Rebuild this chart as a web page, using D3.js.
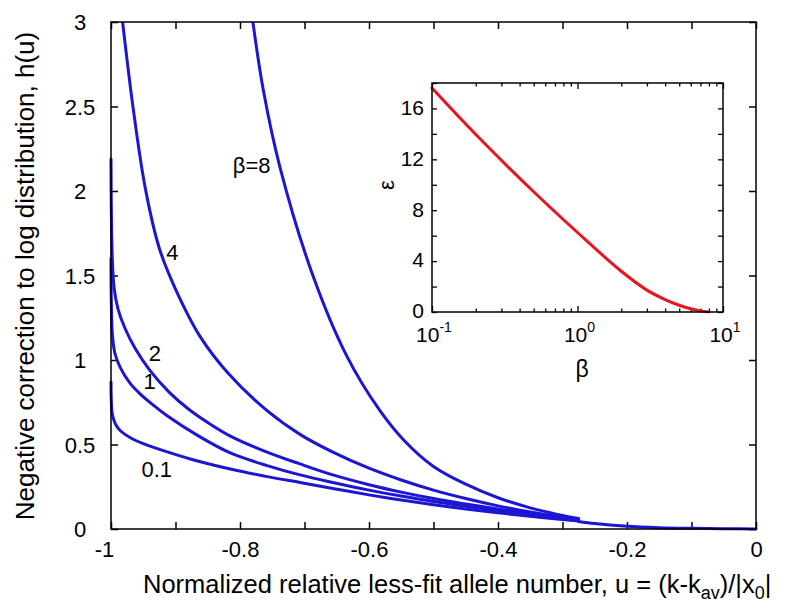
<!DOCTYPE html>
<html><head><meta charset="utf-8">
<script src="https://cdn.jsdelivr.net/npm/d3@7"></script>
<style>
body{margin:0;background:#fff}
text{font-family:"Liberation Sans",Arial,Helvetica,sans-serif;fill:#000}
</style>
</head><body>
<svg id="c" width="800" height="610"></svg>
<script>
// ---------- data ----------
const xTickValues = [-1, -0.8, -0.6, -0.4, -0.2, 0];
const xTickLabels = ["-1", "-0.8", "-0.6", "-0.4", "-0.2", "0"];
const yTickValues = [0, 0.5, 1, 1.5, 2, 2.5, 3];
const yTickLabels = ["0", "0.5", "1", "1.5", "2", "2.5", "3"];
const betaNames = ["0.1", "1", "2", "4", "8"];

const u_b01 = [-1, -0.9995, -0.998, -0.993, -0.985, -0.97, -0.95, -0.92, -0.873, -0.815, -0.758, -0.707, -0.656, -0.6, -0.55, -0.5, -0.45, -0.4, -0.35, -0.3, -0.275];
const h_b01 = [0.87, 0.76, 0.68, 0.62, 0.58, 0.54, 0.505, 0.465, 0.41, 0.355, 0.31, 0.275, 0.24, 0.202, 0.171, 0.143, 0.118, 0.096, 0.075, 0.056, 0.047];

const u_b1 = [-1, -0.9995, -0.998, -0.994, -0.985, -0.97, -0.955, -0.935, -0.913, -0.862, -0.815, -0.758, -0.707, -0.656, -0.6, -0.55, -0.5, -0.45, -0.4, -0.35, -0.3, -0.275];
const h_b1 = [1.60, 1.35, 1.16, 1.04, 0.95, 0.86, 0.80, 0.735, 0.67, 0.545, 0.45, 0.375, 0.32, 0.275, 0.23, 0.195, 0.163, 0.135, 0.108, 0.083, 0.06, 0.049];

const u_b2 = [-1, -0.9995, -0.998, -0.995, -0.989, -0.978, -0.962, -0.94, -0.91, -0.88, -0.846, -0.815, -0.758, -0.707, -0.656, -0.6, -0.55, -0.5, -0.45, -0.4, -0.35, -0.3, -0.275];
const h_b2 = [2.19, 1.90, 1.60, 1.42, 1.30, 1.185, 1.065, 0.94, 0.81, 0.71, 0.62, 0.55, 0.455, 0.385, 0.32, 0.262, 0.218, 0.18, 0.148, 0.118, 0.09, 0.066, 0.055];

const u_b4 = [-0.982, -0.966, -0.947, -0.925, -0.90, -0.862, -0.818, -0.758, -0.707, -0.656, -0.6, -0.55, -0.5, -0.45, -0.4, -0.35, -0.3, -0.275];
const h_b4 = [3.0, 2.5, 2.02, 1.66, 1.42, 1.14, 0.92, 0.70, 0.56, 0.455, 0.36, 0.29, 0.23, 0.18, 0.137, 0.10, 0.07, 0.058];

const u_b8 = [-0.780, -0.764, -0.738, -0.687, -0.634, -0.583, -0.547, -0.5, -0.45, -0.4, -0.35, -0.3, -0.275];
const h_b8 = [3.0, 2.60, 2.14, 1.50, 1.02, 0.70, 0.53, 0.37, 0.265, 0.185, 0.125, 0.08, 0.062];

const u_tail = [-0.275, -0.25, -0.2, -0.15, -0.1, -0.05, 0];
const h_tail = [0.045, 0.032, 0.016, 0.008, 0.004, 0.0015, 0];

const insetBeta = [0.1, 0.2, 0.5, 1, 2, 3, 4, 5, 6, 7, 8];
const insetEps  = [17.6, 13.95, 9.45, 6.25, 3.2, 1.72, 0.98, 0.53, 0.26, 0.09, 0.01];
const insetYTickValues = [0, 4, 8, 12, 16];
const insetYTickLabels = ["0", "4", "8", "12", "16"];
const insetXTickValues = [0.1, 1, 10];
const insetXTickExps = ["-1", "0", "1"];

// ---------- drawing ----------
const svg = d3.select("#c");
const W = 800, H = 610;
const L = 111, R = 756, T = 22, B = 529;
const blue = "#1c16d4", red = "#e8141e";

const x = d3.scaleLinear().domain([-1, 0]).range([L, R]);
const y = d3.scaleLinear().domain([0, 3]).range([B, T]);

svg.append("rect").attr("width", W).attr("height", H).attr("fill", "#fff");

// ticks (inward, all sides)
const tickLen = 7;
const xMinor = d3.range(-1, 0.0001, 0.1);
svg.append("g").attr("transform", `translate(0,${B})`)
  .call(d3.axisBottom(x).tickValues(xMinor).tickSize(-tickLen).tickFormat(""))
  .call(g => g.select(".domain").remove());
svg.append("g").attr("transform", `translate(0,${T})`)
  .call(d3.axisTop(x).tickValues(xMinor).tickSize(-tickLen).tickFormat(""))
  .call(g => g.select(".domain").remove());
svg.append("g").attr("transform", `translate(${L},0)`)
  .call(d3.axisLeft(y).tickValues(yTickValues).tickSize(-tickLen).tickFormat(""))
  .call(g => g.select(".domain").remove());
svg.append("g").attr("transform", `translate(${R},0)`)
  .call(d3.axisRight(y).tickValues(yTickValues).tickSize(-tickLen).tickFormat(""))
  .call(g => g.select(".domain").remove());
svg.selectAll(".tick line").attr("stroke", "#000").attr("stroke-width", 1.5);

// tick labels
const xl = svg.append("g").attr("transform", `translate(0,${B})`)
  .call(d3.axisBottom(x).tickValues(xTickValues).tickSize(0).tickPadding(0)
    .tickFormat((d, i) => xTickLabels[i]));
xl.select(".domain").remove();
xl.selectAll("text").attr("font-size", 22).attr("font-family", null)
  .attr("dy", null).attr("y", 28).attr("fill", "#000")
  .attr("dx", (d, i) => i === 0 ? -7 : 0);

const yl = svg.append("g").attr("transform", `translate(${L},0)`)
  .call(d3.axisLeft(y).tickValues(yTickValues).tickSize(0).tickPadding(0)
    .tickFormat((d, i) => yTickLabels[i]));
yl.select(".domain").remove();
yl.selectAll("text").attr("font-size", 22).attr("font-family", null)
  .attr("text-anchor", "middle").attr("x", -31).attr("dy", "0.35em").attr("fill", "#000");

// curves
const series = [[u_b01, h_b01], [u_b1, h_b1], [u_b2, h_b2], [u_b4, h_b4], [u_b8, h_b8], [u_tail, h_tail]];
const line = d3.line().x(d => x(d[0])).y(d => y(d[1])).curve(d3.curveCatmullRom.alpha(0.5));
svg.append("defs").append("clipPath").attr("id", "clipMain")
  .append("rect").attr("x", L - 2).attr("y", T).attr("width", R - L + 4).attr("height", B - T + 2);
const cg = svg.append("g").attr("clip-path", "url(#clipMain)");
series.forEach(([us, hs]) => {
  cg.append("path").datum(us.map((u, i) => [u, hs[i]]))
    .attr("d", line).attr("fill", "none").attr("stroke", blue)
    .attr("stroke-width", 3).attr("stroke-linejoin", "round").attr("stroke-linecap", "round");
});

// frame
svg.append("rect").attr("x", L).attr("y", T).attr("width", R - L).attr("height", B - T)
  .attr("fill", "none").attr("stroke", "#000").attr("stroke-width", 1.5);

// curve labels
const labelSpots = [[-0.929, 0.352], [-0.940, 0.876], [-0.932, 1.04], [-0.905, 1.64], [-0.782, 2.154]];
betaNames.forEach((b, i) => {
  svg.append("text").attr("x", x(labelSpots[i][0])).attr("y", y(labelSpots[i][1]))
    .attr("dy", "0.35em").attr("text-anchor", "middle").attr("font-size", 22)
    .text(i === 4 ? "β=" + b : b);
});

// axis titles
const xt = svg.append("text").attr("x", 143).attr("y", 593).attr("font-size", 25.5);
xt.append("tspan").text("Normalized relative less-fit allele number, u = (k-k");
xt.append("tspan").attr("font-size", 18).attr("dy", 6).text("av");
xt.append("tspan").attr("dy", -6).text(")/|x");
xt.append("tspan").attr("font-size", 18).attr("dy", 6).text("0");
xt.append("tspan").attr("dy", -6).text("|");

svg.append("text").attr("transform", "translate(34,276) rotate(-90)")
  .attr("text-anchor", "middle").attr("font-size", 26)
  .text("Negative correction to log distribution,  h(u)");

// ---------- inset ----------
const iL = 432, iR = 723, iT = 83, iB = 312;
const xi = d3.scaleLog().domain([0.1, 10]).range([iL, iR]);
const yi = d3.scaleLinear().domain([0, 18]).range([iB, iT]);

svg.append("rect").attr("x", iL).attr("y", iT).attr("width", iR - iL).attr("height", iB - iT).attr("fill", "#fff");

const majorX = insetXTickValues;
const minorX = [0.2,0.3,0.4,0.5,0.6,0.7,0.8,0.9,2,3,4,5,6,7,8,9];
const yiTicks = d3.range(0, 18.001, 2);
function inwardTicks(axisFn, scale, vals, len, tr) {
  svg.append("g").attr("transform", tr)
    .call(axisFn(scale).tickValues(vals).tickSize(-len).tickFormat(""))
    .call(g => g.select(".domain").remove())
    .selectAll(".tick line").attr("stroke", "#000").attr("stroke-width", 1.3);
}
inwardTicks(d3.axisBottom, xi, majorX, 6, `translate(0,${iB})`);
inwardTicks(d3.axisBottom, xi, minorX, 3.5, `translate(0,${iB})`);
inwardTicks(d3.axisTop, xi, majorX, 6, `translate(0,${iT})`);
inwardTicks(d3.axisTop, xi, minorX, 3.5, `translate(0,${iT})`);
inwardTicks(d3.axisLeft, yi, yiTicks, 5, `translate(${iL},0)`);
inwardTicks(d3.axisRight, yi, yiTicks, 5, `translate(${iR},0)`);

// inset curve
const iline = d3.line().x(d => xi(d[0])).y(d => yi(d[1])).curve(d3.curveCatmullRom.alpha(0.5));
svg.append("path").datum(insetBeta.map((b, i) => [b, insetEps[i]]))
  .attr("d", iline).attr("fill", "none").attr("stroke", red).attr("stroke-width", 3)
  .attr("stroke-linecap", "round");

svg.append("rect").attr("x", iL).attr("y", iT).attr("width", iR - iL).attr("height", iB - iT)
  .attr("fill", "none").attr("stroke", "#000").attr("stroke-width", 1.5);

// inset tick labels
insetYTickValues.forEach((v, i) => {
  svg.append("text").attr("x", iL - 8).attr("y", yi(v) - 1).attr("dy", "0.35em")
    .attr("text-anchor", "end").attr("font-size", 21).text(insetYTickLabels[i]);
});
insetXTickValues.forEach((v, i) => {
  const t = svg.append("text").attr("x", xi(v) + 2).attr("y", 342)
    .attr("text-anchor", "middle").attr("font-size", 21);
  t.append("tspan").text("10");
  t.append("tspan").attr("font-size", 14).attr("dy", -10).text(insetXTickExps[i]);
});
svg.append("text").attr("x", 582).attr("y", 377).attr("text-anchor", "middle")
  .attr("font-size", 23).text("β");
svg.append("text").attr("transform", "translate(394,185) rotate(-90)")
  .attr("text-anchor", "middle").attr("font-size", 22).text("ε");
</script>
</body></html>
